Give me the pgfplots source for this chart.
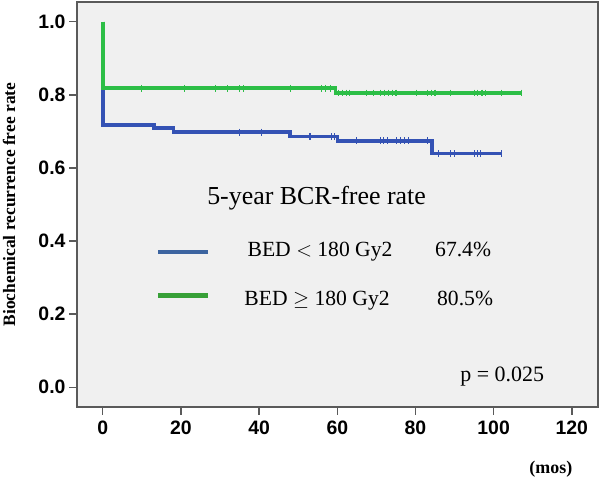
\documentclass[border=0pt]{standalone}
\usepackage{fontspec}
\setmainfont{Liberation Serif}
\setsansfont{Liberation Sans}
\usepackage{pgfplots}
\pgfplotsset{compat=1.18}
\definecolor{kmgreen}{RGB}{44,190,70}
\definecolor{kmblue}{RGB}{52,82,180}
\definecolor{lgblue}{RGB}{60,100,160}
\definecolor{lggreen}{RGB}{55,160,55}
\definecolor{bgc}{RGB}{240,240,240}
\definecolor{axc}{RGB}{90,90,90}
\begin{document}
\begin{tikzpicture}
\path[use as bounding box] (0,0) rectangle (600bp,481bp);
\begin{axis}[
  at={(77bp,74bp)}, anchor=south west,
  scale only axis, width=521bp, height=405bp,
  xmin=-6.6, xmax=126.7, ymin=-0.054, ymax=1.054,
  axis background/.style={fill=bgc},
  axis line style={draw=axc, line width=1.4bp},
  tick style={draw=axc, line width=1.4bp},
  tick align=outside, tick pos=left,
  major tick length=8bp,
  xtick={0,20,...,120}, ytick={0,0.2,...,1.0},
  /pgf/number format/assume math mode=true,
  ticklabel style={font=\fontsize{19.5}{19.5}\selectfont\sffamily\bfseries},
  yticklabel style={/pgf/number format/.cd, fixed, fixed zerofill, precision=1},
  xticklabel style={yshift=-2bp},
  xlabel={(mos)},
  xlabel style={at={(axis description cs:0.9096,-0.1654)}, anchor=base, inner sep=0pt, font=\fontsize{18}{18}\selectfont\bfseries},
  ylabel={Biochemical recurrence free rate},
  ylabel style={at={(axis description cs:-0.1305,0.5)}, anchor=center, inner sep=0pt, font=\fontsize{17.5}{17.5}\selectfont\bfseries},
  clip=false,
]
% Kaplan-Meier curves
\addplot[const plot, color=kmblue, line width=3.6bp] coordinates {
  (0,1.0) (0,0.717) (13.1,0.709) (18.1,0.698) (47.9,0.686) (60,0.674) (84.2,0.639) (102.1,0.639)};
\addplot[const plot, color=kmgreen, line width=3.6bp] coordinates {
  (0,1.0) (0,0.818) (59.5,0.805) (107.2,0.805)};
% censor marks
\addplot[only marks, mark=|, mark size=3.4bp, color=kmgreen, mark options={line width=1.2bp}] coordinates {
  (10,0.818) (21,0.818) (28.9,0.818) (32,0.818) (35,0.818) (36,0.818) (48.1,0.818) (56,0.818) (56.9,0.818) (58.3,0.818)
  (60.3,0.805) (61.4,0.805) (62.3,0.805) (63.1,0.805) (67.4,0.805) (69.2,0.805) (71.1,0.805) (72,0.805) (73.1,0.805) (74.2,0.805) (75,0.805)
  (80.2,0.805) (83.1,0.805) (84,0.805) (85,0.805) (89,0.805) (95,0.805) (95.9,0.805) (97,0.805) (98,0.805) (102.1,0.805) (107.2,0.805)};
\addplot[only marks, mark=|, mark size=3.4bp, color=kmblue, mark options={line width=1.2bp}] coordinates {
  (35,0.698) (40.7,0.698)
  (53,0.686) (58.6,0.686) (59.2,0.686)
  (65,0.674) (71,0.674) (71.8,0.674) (72.8,0.674) (75.2,0.674) (76.1,0.674) (77.1,0.674) (78.2,0.674) (83.1,0.674)
  (85.9,0.639) (89,0.639) (89.9,0.639) (95,0.639) (95.9,0.639) (96.7,0.639) (102.1,0.639)};
% legend key lines
\addplot[color=lgblue, line width=4.5bp] coordinates {(14.2,0.370) (26.8,0.370)};
\addplot[color=lggreen, line width=4.5bp] coordinates {(14.2,0.251) (26.8,0.251)};
% texts
\node[anchor=base, inner sep=0pt, font=\fontsize{26}{26}\selectfont] at (axis cs:54.7,0.4995) {5-year BCR-free rate};
\node[anchor=base west, inner sep=0pt, font=\fontsize{21.7}{21.7}\selectfont] at (axis cs:37.0,0.3578) {BED $<$ 180 Gy2};
\node[anchor=base west, inner sep=0pt, font=\fontsize{21.7}{21.7}\selectfont] at (axis cs:85.0,0.3578) {67.4\%};
\node[anchor=base west, inner sep=0pt, font=\fontsize{21.7}{21.7}\selectfont] at (axis cs:36.2,0.2236) {BED\ $\geq$ 180 Gy2};
\node[anchor=base west, inner sep=0pt, font=\fontsize{21.7}{21.7}\selectfont] at (axis cs:85.5,0.2236) {80.5\%};
\node[anchor=base, inner sep=0pt, font=\fontsize{22}{22}\selectfont] at (axis cs:102.2,0.0153) {p = 0.025};
\end{axis}
\end{tikzpicture}
\end{document}
